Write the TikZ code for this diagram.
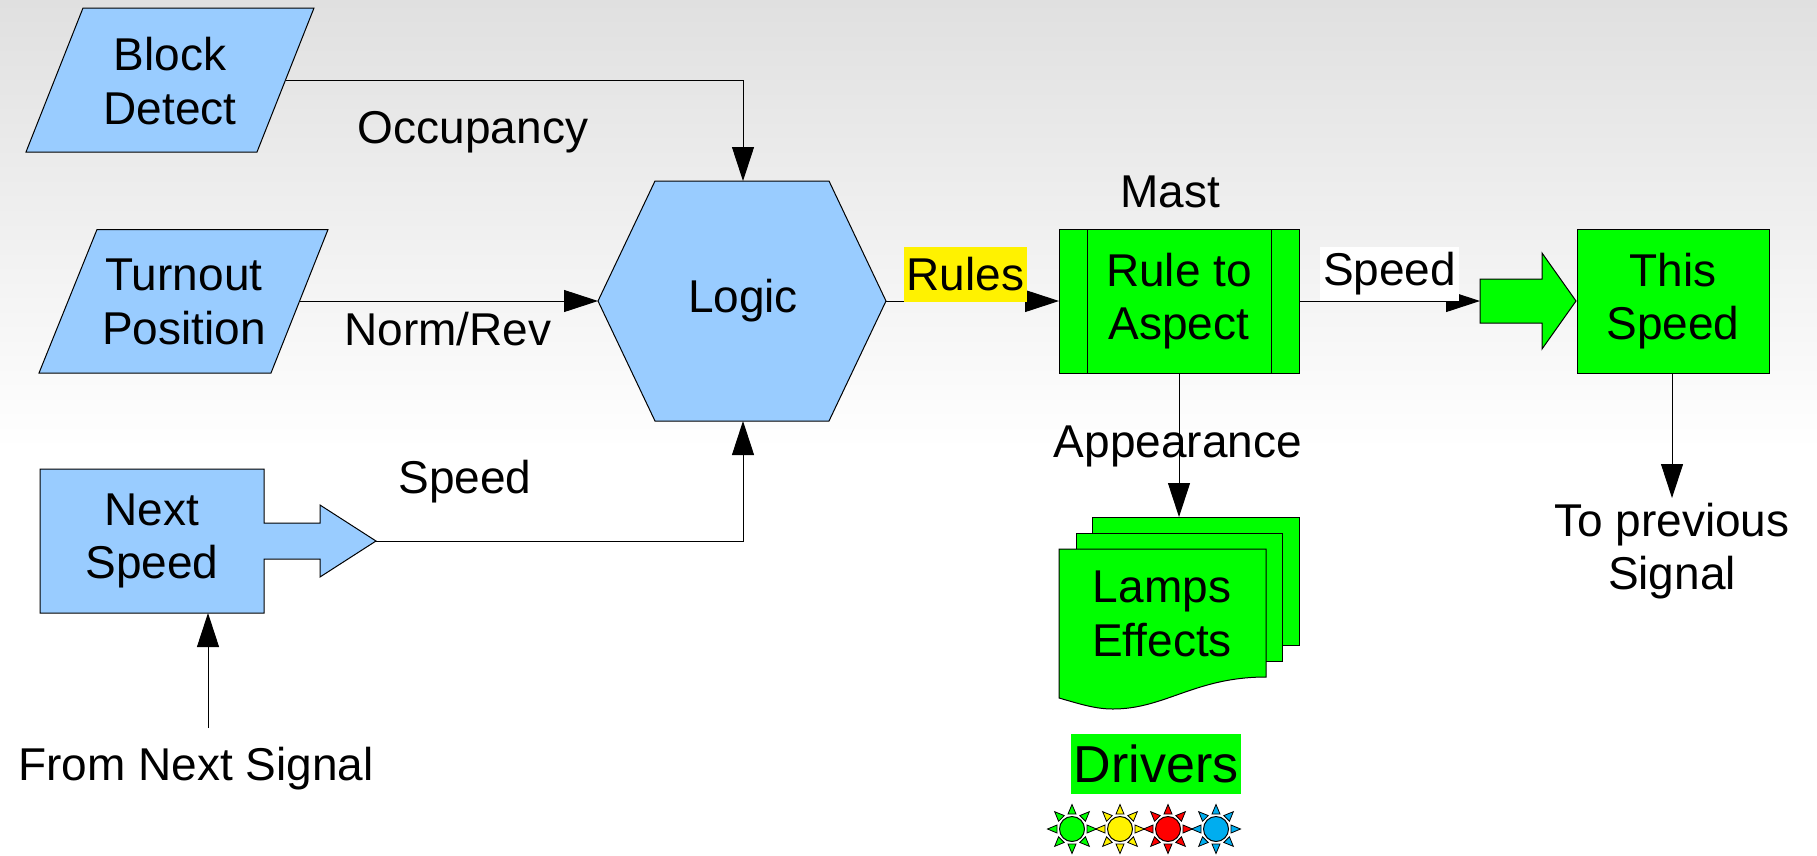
\documentclass[tikz,border=0pt]{standalone}
\usepackage{fontspec}
\setmainfont{Liberation Sans}
\usetikzlibrary{arrows.meta}
\definecolor{sigblue}{HTML}{99CCFF}
\definecolor{siggreen}{HTML}{00FF00}
\definecolor{bgtop}{HTML}{E0E0E0}
\tikzset{
  shapeline/.style={draw=black,line width=1pt},
  bluefill/.style={shapeline,fill=sigblue},
  greenfill/.style={shapeline,fill=siggreen},
  boxnode/.style={shapeline,rectangle,inner sep=0pt,align=center,font=\fontsize{46}{53.5}\selectfont},
  label/.style={inner sep=0pt,align=center,font=\fontsize{46}{53.5}\selectfont},
  conn/.style={draw=black,line width=1pt,-{Triangle[length=34pt,width=22pt]}},
  plainconn/.style={draw=black,line width=1pt},
}
\newcommand{\sunlamp}[3]{%
  \foreach \a in {0,45,...,315}{
    \fill[#3,draw=black,line width=0.8pt,shift={(#1,829)},rotate=\a]
      (15,-4) -- (24.5,0) -- (15,4) -- cycle;
  }
  \node[circle,shapeline,fill=#3,minimum size=25pt,inner sep=0pt] (#2) at (#1,829) {};
}
\begin{document}
\begin{tikzpicture}[x=1pt,y=-1pt]
\useasboundingbox (0,0) rectangle (1817,855);
\shade[top color=bgtop,bottom color=white] (0,0) rectangle (1817,450);

% ports
\coordinate (blockout) at (286,80);
\coordinate (turnout) at (300,301);
\coordinate (logicW) at (598,301);
\coordinate (logicN) at (743,181);
\coordinate (logicS) at (743,421);
\coordinate (logicE) at (886,301);
\coordinate (nexttip) at (376,541);
\coordinate (fromfoot) at (208,728);
\coordinate (nextS) at (208,613);
\coordinate (mastW) at (1059,301);
\coordinate (mastE) at (1299,301);
\coordinate (mastS) at (1179,373);
\coordinate (docN) at (1179,517);
\coordinate (tail) at (1480,301);
\coordinate (thisS) at (1672,373);
\coordinate (prevN) at (1672,498);
\coordinate (corner1) at (743,80);
\coordinate (corner2) at (743,541);

% connectors
\draw[conn] (blockout) -- (corner1) -- (logicN);
\draw[conn] (turnout) -- (logicW);
\draw[conn] (nexttip) -- (corner2) -- (logicS);
\draw[conn] (logicE) -- (mastW);
\draw[conn] (mastE) -- (tail);
\draw[conn] (fromfoot) -- (nextS);

% block detect
\draw[bluefill] (83,8) -- (314,8) -- (257,152) -- (26,152) -- cycle;
\node[label] (block) at (170,81) {Block\\Detect};
% turnout
\draw[bluefill] (97,229.5) -- (328,229.5) -- (271,373) -- (39,373) -- cycle;
\node[label] (turn) at (184,302) {Turnout\\Position};
% next speed
\draw[bluefill] (40,469) -- (264,469) -- (264,523) -- (320,523) -- (320,505) -- (376,541)
  -- (320,577) -- (320,559) -- (264,559) -- (264,613) -- (40,613) -- cycle;
\node[label] (next) at (152,541) {Next\\Speed};
% logic
\draw[bluefill] (598,301) -- (655,181) -- (829,181) -- (886,301) -- (829,421) -- (655,421) -- cycle;
\node[label] (logic) at (743,301) {Logic};

% mast
\node[boxnode,fill=siggreen,minimum width=240pt,minimum height=144pt] (mast) at (1179,301) {Rule to\\Aspect};
\draw[shapeline] (1087,229) -- (1087,373);
\draw[shapeline] (1271,229) -- (1271,373);

% this speed
\draw[greenfill] (1480,279) -- (1542,279) -- (1542,253) -- (1576,301) -- (1542,349) -- (1542,323) -- (1480,323) -- cycle;
\node[boxnode,fill=siggreen,minimum width=192pt,minimum height=144pt] (this) at (1673,301) {This\\Speed};

% lamps document stack
\draw[greenfill] (1092,517) rectangle (1299,645);
\draw[greenfill] (1076,533) rectangle (1282,661);
\draw[greenfill] (1059,549) -- (1266,549) -- (1266,677)
  .. controls (1195,677) and (1165,709) .. (1113,709)
  .. controls (1095,709) and (1080,704) .. (1059,698) -- cycle;
\node[label] (lamps) at (1162,614) {Lamps\\Effects};

% appearance connector and its arrow
\draw[conn] (mastS) -- (docN);
\draw[conn] (thisS) -- (prevN);

% labels
\node[label] (occ) at (473,132) {Occupancy};
\node[label] (norm) at (448,329) {Norm/Rev};
\node[label] (speedA) at (465,482) {Speed};
\node[inner sep=0pt,fill=yellow,minimum width=123pt,minimum height=55pt,font=\fontsize{46}{53.5}\selectfont] (rules) at (965.5,274.5) {Rules};
\node[label] (mastlabel) at (1170,192) {Mast};
\node[inner sep=0pt,fill=white,minimum width=139pt,minimum height=54pt,font=\fontsize{46}{53.5}\selectfont] (speedB) at (1389.5,274) {Speed};
\node[label] (app) at (1178,446) {Appearance};
\node[label] (prev) at (1672,551) {To previous\\Signal};
\node[label] (from) at (196,769) {From Next Signal};

% drivers
\node[inner sep=0pt,fill=siggreen,minimum width=170pt,minimum height=60pt,font=\fontsize{52}{60}\selectfont] (drivers) at (1156,764) {Drivers};
\sunlamp{1072}{lampg}{siggreen}
\sunlamp{1120}{lampy}{yellow}
\sunlamp{1168}{lampr}{red}
\sunlamp{1216}{lampc}{cyan}
\end{tikzpicture}
\end{document}
